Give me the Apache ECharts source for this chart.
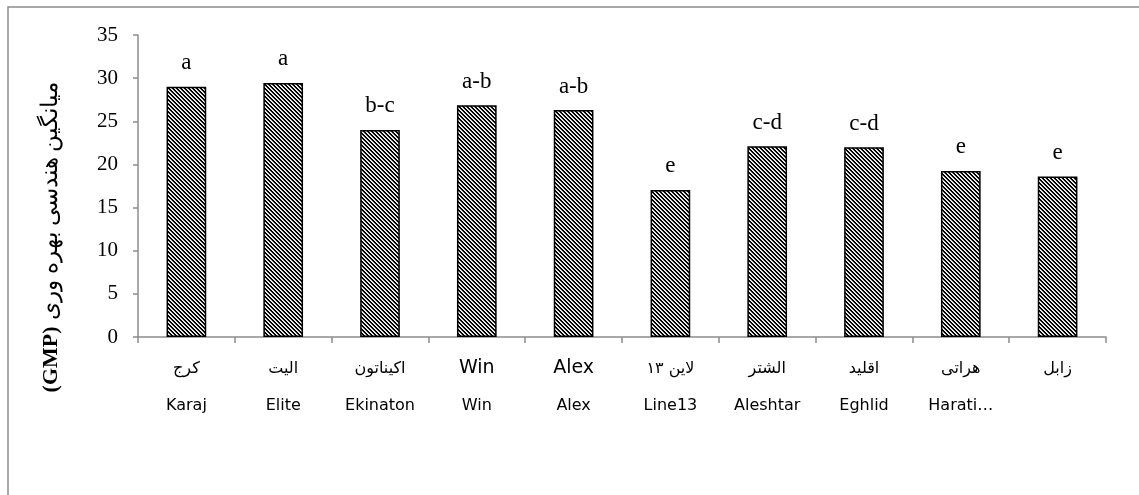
<!DOCTYPE html>
<html>
<head>
<meta charset="utf-8">
<script src="https://cdn.jsdelivr.net/npm/echarts@6/dist/echarts.min.js"></script>
<style>
  html, body { margin: 0; padding: 0; background: #ffffff; }
  #chart { width: 1139px; height: 495px; }
</style>
</head>
<body>
<div id="chart"></div>
<script>
// Cultivar names (Persian row and English row) and mean GMP per cultivar
var categoriesFa = ['کرج', 'الیت', 'اکیناتون', 'Win', 'Alex', 'لاین ۱۳', 'الشتر', 'اقلید', 'هراتی', 'زابل'];
var categoriesEn = ['Karaj', 'Elite', 'Ekinaton', 'Win', 'Alex', 'Line13', 'Aleshtar', 'Eghlid', 'Harati…', ''];
var gmpValues = [29.0, 29.45, 24.0, 26.85, 26.3, 17.05, 22.1, 22.0, 19.25, 18.6];
var groupLetters = ['a', 'a', 'b-c', 'a-b', 'a-b', 'e', 'c-d', 'c-d', 'e', 'e'];
var yTicks = { min: 0, max: 35, step: 5 };

// Diagonal hatch tile used as bar fill
function hatchTile() {
  var c = document.createElement('canvas');
  c.width = 4; c.height = 4;
  var ctx = c.getContext('2d');
  var img = ctx.createImageData(4, 4);
  for (var y = 0; y < 4; y++) {
    for (var x = 0; x < 4; x++) {
      var k = ((x - y) % 4 + 4) % 4;
      var v = k < 2 ? 0 : (k === 2 ? 255 : 200);
      var i = (y * 4 + x) * 4;
      img.data[i] = v; img.data[i + 1] = v; img.data[i + 2] = v; img.data[i + 3] = 255;
    }
  }
  ctx.putImageData(img, 0, 0);
  return c;
}

var chart = echarts.init(document.getElementById('chart'), null, { renderer: 'canvas' });
var serif = '"Liberation Serif", "Times New Roman", "DejaVu Serif", serif';
var sans = '"DejaVu Sans", "Noto Sans", sans-serif';

chart.setOption({
  backgroundColor: '#ffffff',
  animation: false,
  graphic: [
    {
      type: 'rect',
      shape: { x: 8, y: 7, width: 1300, height: 700 },
      style: { fill: 'none', stroke: '#8c8c8c', lineWidth: 1.5 },
      silent: true
    },
    {
      type: 'text',
      x: 51,
      y: 237,
      rotation: Math.PI / 2,
      style: {
        text: '{b|(GMP)}  {n|میانگین هندسی بهره وری}',
        align: 'center',
        verticalAlign: 'middle',
        fill: '#000',
        rich: {
          b: { font: 'bold 22px ' + serif, fill: '#000' },
          n: { font: '23px ' + serif, fill: '#000' }
        }
      }
    }
  ],
  grid: { left: 138, right: 33, top: 35, bottom: 158, containLabel: false },
  xAxis: {
    type: 'category',
    data: categoriesFa,
    axisLine: { lineStyle: { color: '#8c8c8c', width: 1.5 } },
    axisTick: { show: true, length: 6, lineStyle: { color: '#8c8c8c', width: 1.5 } },
    axisLabel: {
      interval: 0,
      margin: 13,
      formatter: function (value, idx) {
        var top = /[A-Za-z]/.test(value) ? '{faL|' + value + '}' : '{fa|' + value + '}';
        var en = categoriesEn[idx];
        return en ? top + '\n{en|' + en + '}' : top;
      },
      rich: {
        fa: { fontFamily: sans, fontSize: 16, color: '#000', lineHeight: 37 },
        faL: { fontFamily: sans, fontSize: 19, color: '#000', lineHeight: 37 },
        en: { fontFamily: sans, fontSize: 16, color: '#000', lineHeight: 37 }
      }
    }
  },
  yAxis: {
    type: 'value',
    min: yTicks.min,
    max: yTicks.max,
    interval: yTicks.step,
    splitLine: { show: false },
    axisLine: { show: true, lineStyle: { color: '#8c8c8c', width: 1.5 } },
    axisTick: { show: true, inside: false, length: 5, lineStyle: { color: '#8c8c8c', width: 1.5 } },
    axisLabel: { margin: 20, fontFamily: serif, fontSize: 21, color: '#000' }
  },
  series: [{
    type: 'bar',
    data: gmpValues,
    barWidth: '41%',
    itemStyle: {
      color: { image: hatchTile(), repeat: 'repeat' },
      borderColor: '#000',
      borderWidth: 1.5
    },
    label: {
      show: true,
      position: 'top',
      distance: 12,
      fontFamily: serif,
      fontSize: 23,
      color: '#000',
      formatter: function (p) { return groupLetters[p.dataIndex]; }
    }
  }]
});
</script>
</body>
</html>
